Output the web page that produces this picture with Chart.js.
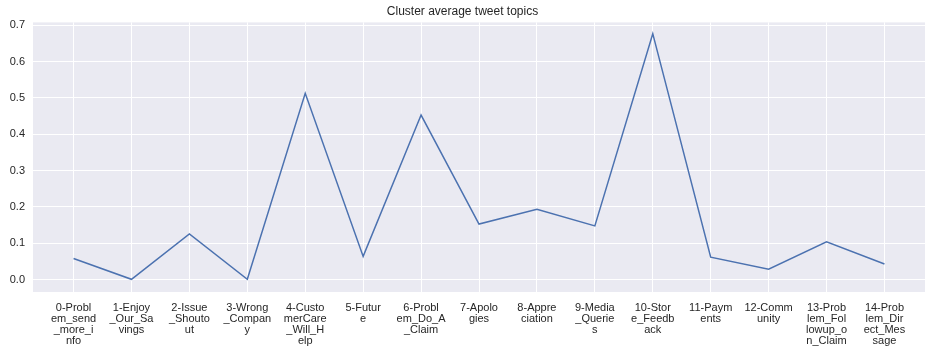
<!DOCTYPE html>
<html>
<head>
<meta charset="utf-8">
<script src="https://cdn.jsdelivr.net/npm/chart.js@4/dist/chart.umd.min.js"></script>
<style>
html,body{margin:0;padding:0;background:#fff;}
#wrap{width:938px;height:354px;position:relative;}
</style>
</head>
<body>
<div id="wrap"><canvas id="c" width="938" height="354"></canvas></div>
<script>
const categories = [
  "0-Problem_send_more_info",
  "1-Enjoy_Our_Savings",
  "2-Issue_Shoutout",
  "3-Wrong_Company",
  "4-CustomerCare_Will_Help",
  "5-Future",
  "6-Problem_Do_A_Claim",
  "7-Apologies",
  "8-Appreciation",
  "9-Media_Queries",
  "10-Store_Feedback",
  "11-Payments",
  "12-Community",
  "13-Problem_Followup_on_Claim",
  "14-Problem_Direct_Message"
];
const values = [0.058, 0.001, 0.126, 0.001, 0.513, 0.064, 0.453, 0.153, 0.194, 0.148, 0.677, 0.062, 0.029, 0.104, 0.043];
const yTicks = [0.0, 0.1, 0.2, 0.3, 0.4, 0.5, 0.6, 0.7];
const title = "Cluster average tweet topics";

function wrapLabel(s, n) {
  const out = [];
  for (let i = 0; i < s.length; i += n) out.push(s.slice(i, i + n));
  return out;
}
const wrapped = categories.map(c => wrapLabel(c, 7));

const bgPlugin = {
  id: 'bg',
  beforeDraw(chart) {
    const a = chart.chartArea, ctx = chart.ctx;
    ctx.save();
    ctx.fillStyle = '#EAEAF2';
    ctx.fillRect(a.left, a.top, a.right - a.left, a.bottom - a.top);
    ctx.restore();
  }
};

const FONT = "'Liberation Sans', Arial, sans-serif";
new Chart(document.getElementById('c'), {
  type: 'line',
  data: {
    datasets: [{
      data: values.map((v, i) => ({x: i, y: v})),
      borderColor: '#4C72B0',
      borderWidth: 1.5,
      pointRadius: 0,
      tension: 0,
      fill: false
    }]
  },
  options: {
    responsive: false,
    animation: false,
    layout: {padding: {left: 0, right: 13, top: 0, bottom: 0}},
    plugins: {
      legend: {display: false},
      tooltip: {enabled: false},
      title: {
        display: true,
        text: title,
        color: '#262626',
        font: {family: FONT, size: 12, weight: 'normal'},
        padding: {top: 4, bottom: 4}
      }
    },
    scales: {
      x: {
        type: 'linear',
        min: -0.7,
        max: 14.7,
        afterBuildTicks: s => { s.ticks = categories.map((c, i) => ({value: i})); },
        afterFit: s => { s.height = 62; },
        border: {display: false},
        grid: {color: '#ffffff', lineWidth: 1, tickLength: 0, drawTicks: false},
        ticks: {
          autoSkip: false,
          maxRotation: 0,
          minRotation: 0,
          padding: 10,
          color: '#262626',
          font: {family: FONT, size: 11, lineHeight: 1.0},
          callback: v => wrapped[v]
        }
      },
      y: {
        min: -0.034,
        max: 0.708,
        afterBuildTicks: s => { s.ticks = yTicks.map(v => ({value: v})); },
        afterFit: s => { s.width = 33; },
        border: {display: false},
        grid: {color: '#ffffff', lineWidth: 1, tickLength: 0, drawTicks: false},
        ticks: {
          padding: 8,
          color: '#262626',
          font: {family: FONT, size: 11},
          callback: v => v.toFixed(1)
        }
      }
    }
  },
  plugins: [bgPlugin]
});
</script>
</body>
</html>
